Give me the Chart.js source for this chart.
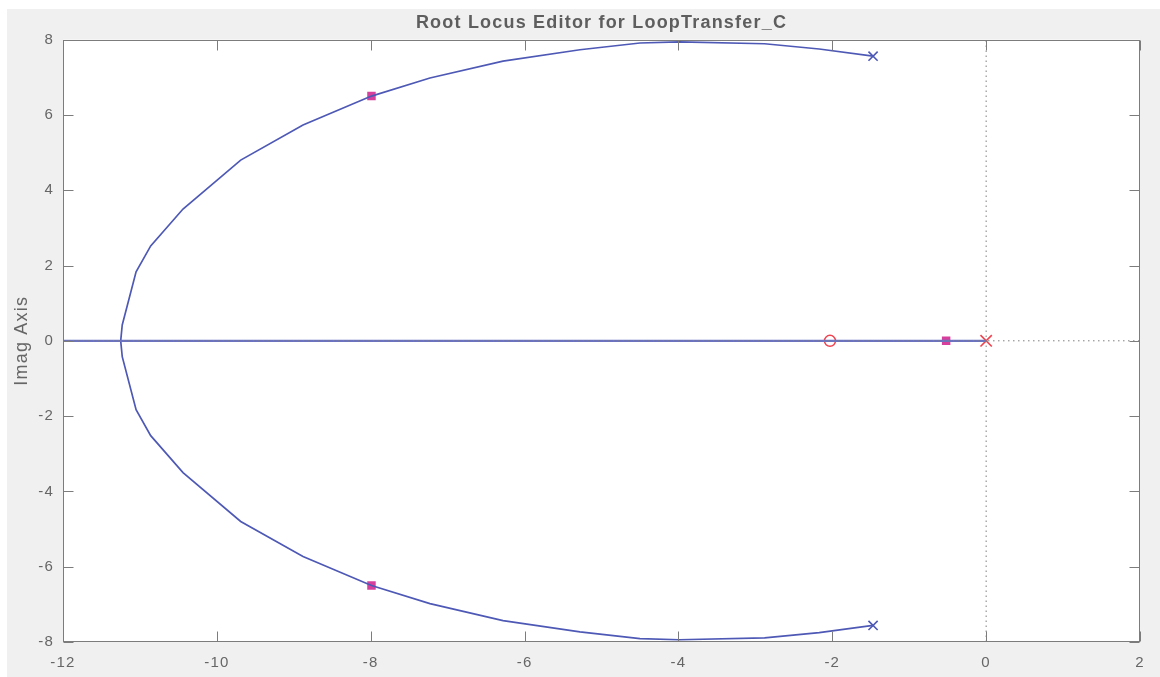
<!DOCTYPE html>
<html>
<head>
<meta charset="utf-8">
<title>Root Locus Editor for LoopTransfer_C</title>
<script src="https://cdn.jsdelivr.net/npm/chart.js@4.4.1/dist/chart.umd.min.js"></script>
<style>
  html, body { margin: 0; padding: 0; background: #ffffff; }
  #wrap { width: 1160px; height: 677px; }
</style>
</head>
<body>
<div id="wrap"><canvas id="rl" width="1160" height="677"></canvas></div>
<script>
// Complex branches of the root locus (real part, imaginary part)
const branchRe = [-1.47, -2.17, -2.88, -3.99, -4.50, -5.28, -6.28, -7.23, -7.99, -8.88, -9.69, -10.44, -10.86, -11.05, -11.23, -11.25];
const upperIm  = [7.56, 7.75, 7.89, 7.94, 7.91, 7.73, 7.43, 6.98, 6.50, 5.73, 4.80, 3.50, 2.52, 1.83, 0.42, 0];
const lowerIm  = [-7.56, -7.75, -7.89, -7.94, -7.91, -7.73, -7.43, -6.98, -6.50, -5.73, -4.80, -3.50, -2.52, -1.83, -0.42, 0];

// Branch lying on the real axis
const realBranchRe = [-12, 0];
const realBranchIm = [0, 0];

// Open-loop poles and zeros
const plantPolesRe = [-1.47, -1.47];
const plantPolesIm = [7.56, -7.56];
const compPolesRe = [0];
const compPolesIm = [0];
const compZerosRe = [-2.03];
const compZerosIm = [0];

// Closed-loop poles at the current gain
const clPolesRe = [-7.99, -7.99, -0.52];
const clPolesIm = [6.50, -6.50, 0];

// Axis ranges and tick spacing
const xRange = [-12, 2];
const yRange = [-8, 8];
const tickStep = 2;

const pts = (xs, ys) => xs.map((v, i) => ({ x: v, y: ys[i] }));

const BLUE = '#4e59b6';
const BLUE_AXIS = '#6a72c1';
const RED = '#f0434f';
const MAGENTA = '#d6409c';
const FONT = "'Liberation Sans', Arial, Helvetica, sans-serif";

const lineSet = (data, color, width) => ({
  data, showLine: true, borderColor: color, borderWidth: width,
  pointRadius: 0, fill: false, tension: 0
});

// Figure background, white axes box, frame and inward tick marks
const framePlugin = {
  id: 'frame',
  beforeDraw(chart) {
    const { ctx, chartArea: a, width, height } = chart;
    ctx.save();
    ctx.fillStyle = '#ffffff';
    ctx.fillRect(0, 0, width, height);
    ctx.fillStyle = '#f0f0f0';
    ctx.fillRect(7, 9, width - 7, height - 9);
    ctx.fillStyle = '#ffffff';
    ctx.fillRect(a.left, a.top, a.right - a.left, a.bottom - a.top);
    ctx.restore();
    ctx.letterSpacing = '1.2px';
  },
  afterDraw(chart) {
    const { ctx, chartArea: a, scales: { x, y } } = chart;
    const L = Math.round(a.left) + 0.5, R = Math.round(a.right) - 0.5;
    const T = Math.round(a.top) + 0.5, B = Math.round(a.bottom) - 0.5;
    ctx.save();
    ctx.strokeStyle = '#7c7c7c';
    ctx.lineWidth = 1;
    ctx.beginPath();
    x.ticks.forEach(t => {
      const px = Math.round(x.getPixelForValue(t.value)) + 0.5;
      ctx.moveTo(px, B); ctx.lineTo(px, B - 10);
      ctx.moveTo(px, T); ctx.lineTo(px, T + 10);
    });
    y.ticks.forEach(t => {
      const py = Math.round(y.getPixelForValue(t.value)) + 0.5;
      ctx.moveTo(L, py); ctx.lineTo(L + 10, py);
      ctx.moveTo(R, py); ctx.lineTo(R - 10, py);
    });
    ctx.stroke();
    ctx.strokeRect(L, T, R - L, B - T);
    ctx.restore();
  }
};

new Chart(document.getElementById('rl'), {
  type: 'scatter',
  data: {
    datasets: [
      // complex-plane axes (dotted)
      { data: pts([0, 0], yRange), showLine: true, borderColor: '#7f7f7f', borderWidth: 1,
        borderDash: [1.5, 3.5], pointRadius: 0, fill: false },
      { data: pts(xRange, [0, 0]), showLine: true, borderColor: '#7f7f7f', borderWidth: 1,
        borderDash: [1.5, 3.5], pointRadius: 0, fill: false },
      lineSet(pts(realBranchRe, realBranchIm), BLUE_AXIS, 2.2),
      lineSet(pts(branchRe, upperIm), BLUE, 1.7),
      lineSet(pts(branchRe, lowerIm), BLUE, 1.7),
      { data: pts(plantPolesRe, plantPolesIm), pointStyle: 'crossRot', pointRadius: 6.5,
        borderColor: BLUE, borderWidth: 1.6, showLine: false },
      { data: pts(compZerosRe, compZerosIm), pointStyle: 'circle', pointRadius: 5.5,
        borderColor: RED, backgroundColor: 'rgba(255,255,255,0)', borderWidth: 1.5, showLine: false },
      { data: pts(clPolesRe, clPolesIm), pointStyle: 'rect', pointRadius: 6,
        backgroundColor: MAGENTA, borderColor: MAGENTA, borderWidth: 0, showLine: false },
      { data: pts(compPolesRe, compPolesIm), pointStyle: 'crossRot', pointRadius: 8,
        borderColor: RED, borderWidth: 1.6, showLine: false }
    ]
  },
  options: {
    responsive: false,
    animation: false,
    events: [],
    layout: { padding: { left: 0, right: 20, top: 0, bottom: 0 } },
    plugins: {
      legend: { display: false },
      tooltip: { enabled: false },
      title: {
        display: true,
        text: 'Root Locus Editor for LoopTransfer_C',
        fullSize: false,
        color: '#5e5e5e',
        font: { family: FONT, size: 18, weight: 'bold', lineHeight: 1.2 },
        padding: { top: 12, bottom: 6 }
      }
    },
    scales: {
      x: {
        type: 'linear',
        position: 'bottom',
        min: xRange[0], max: xRange[1],
        grid: { display: false, drawTicks: false },
        border: { display: false },
        ticks: { stepSize: tickStep, color: '#666666', padding: 12,
          font: { family: FONT, size: 15 } },
        afterFit(scale) { scale.height = 35; }
      },
      y: {
        type: 'linear',
        position: 'left',
        min: yRange[0], max: yRange[1],
        grid: { display: false, drawTicks: false },
        border: { display: false },
        ticks: { stepSize: tickStep, color: '#666666', padding: 9,
          font: { family: FONT, size: 15 } },
        title: { display: true, text: 'Imag Axis', color: '#666666',
          font: { family: FONT, size: 18 }, padding: { top: 11, bottom: 0 } },
        afterFit(scale) { scale.width = 63; }
      }
    }
  },
  plugins: [framePlugin]
});
</script>
</body>
</html>
